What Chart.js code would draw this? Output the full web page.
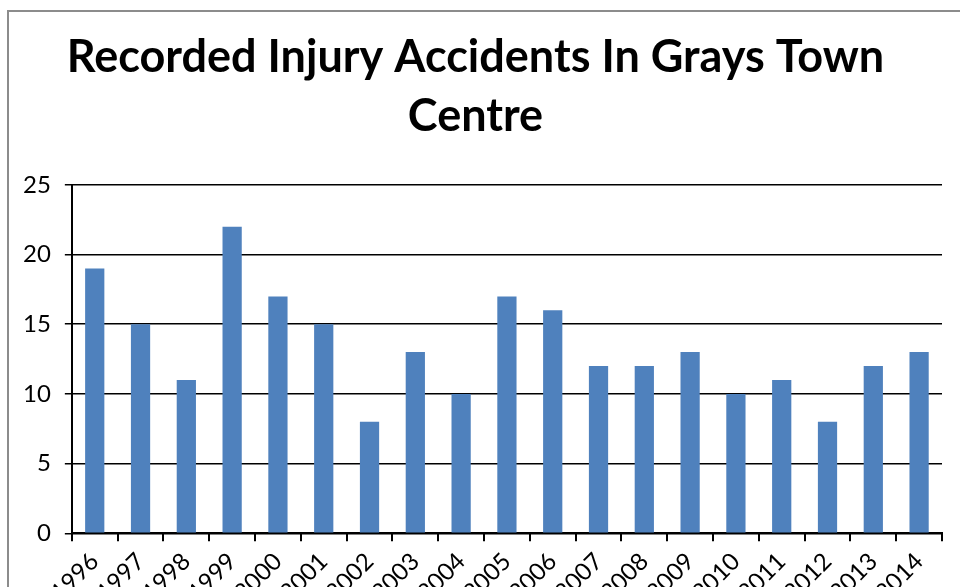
<!DOCTYPE html>
<html>
<head>
<meta charset="utf-8">
<script src="https://cdn.jsdelivr.net/npm/chart.js@4/dist/chart.umd.min.js"></script>
<style>
  html, body { margin: 0; padding: 0; background: #fff; overflow: hidden; width: 960px; height: 587px; }
  #frame { position: absolute; left: 7px; top: 10px; width: 962px; height: 640px; border: 2px solid #8c8c8c; }
  #box { position: absolute; left: 0; top: 0; width: 962px; height: 601px; }
</style>
</head>
<body>
<div id="frame"><div id="box"><canvas id="chart"></canvas></div></div>
<script>
// data
const years = ["1996", "1997", "1998", "1999", "2000", "2001", "2002", "2003", "2004", "2005",
               "2006", "2007", "2008", "2009", "2010", "2011", "2012", "2013", "2014"];
const accidents = [19, 15, 11, 22, 17, 15, 8, 13, 10, 17, 16, 12, 12, 13, 10, 11, 8, 12, 13];
const yTicks = [0, 5, 10, 15, 20, 25];

const font = "Lato, 'Open Sans', sans-serif";

new Chart(document.getElementById("chart"), {
    type: "bar",
    data: {
        labels: years,
        datasets: [{
            label: "Accidents",
            data: accidents,
            backgroundColor: "#4f81bd",
            borderWidth: 0,
            barPercentage: 1,
            categoryPercentage: 0.42,
        }]
    },
    options: {
        responsive: true,
        maintainAspectRatio: false,
        animation: false,
        layout: { padding: { left: 0, right: 29, top: 10, bottom: 0 } },
        plugins: {
            legend: { display: false },
            tooltip: { enabled: false },
            title: {
                display: true,
                text: ["Recorded Injury Accidents In Grays Town", "Centre"],
                color: "#000",
                font: { family: font, size: 45, weight: "bold", lineHeight: 1.31 },
                padding: { top: 6, bottom: 39 },
            }
        },
        scales: {
            x: {
                grid: { display: true, drawOnChartArea: false, drawTicks: true, tickLength: 8, color: "#000", lineWidth: 2, offset: true },
                border: { display: true, color: "#000", width: 2 },
                ticks: { color: "#000", font: { family: font, size: 24 }, minRotation: 45, maxRotation: 45, padding: 6 },
            },
            y: {
                min: 0,
                max: 25,
                afterBuildTicks: (axis) => { axis.ticks = yTicks.map(v => ({ value: v })); },
                grid: { color: "#000", lineWidth: 1.5, tickLength: 7 },
                border: { display: true, color: "#000", width: 2 },
                ticks: { color: "#000", font: { family: font, size: 24 }, padding: 14 },
            }
        }
    }
});
</script>
</body>
</html>
